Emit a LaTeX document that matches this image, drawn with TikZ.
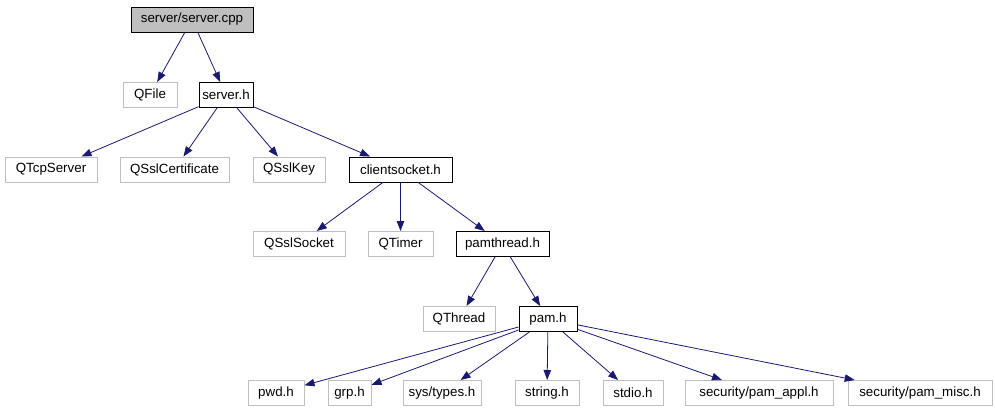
\documentclass[tikz,border=0pt]{standalone}
\usepackage{fontspec}
\setmainfont{Liberation Sans}
\usepackage{tikz}
\usetikzlibrary{arrows.meta}

\definecolor{edgeblue}{RGB}{25,25,112}
\definecolor{boxgray}{RGB}{191,191,191}

\tikzset{
  file/.style={draw=black, line width=0.75pt, minimum height=18.75pt, inner sep=0pt,
               font=\fontsize{10}{12}\selectfont},
  extfile/.style={file, draw=boxgray},
  rootfile/.style={file, fill=boxgray},
  dep/.style={draw=edgeblue, line width=0.6pt, -{Triangle[length=7.5pt, width=5.6pt]}}
}

\begin{document}
\begin{tikzpicture}[x=0.75pt, y=-0.75pt]
      \useasboundingbox (0,0) rectangle (995,411);

      % Top level
      \node[rootfile, minimum width=91.5pt] (root) at (192, 19.5) {server/server.cpp};

      % Row 1
      \node[extfile, minimum width=40.5pt] (qfile) at (150, 95) {QFile};
      \node[file, minimum width=40.5pt] (serverh) at (226, 95) {server.h};

      % Row 2
      \node[extfile, minimum width=69pt] (qtcpserver) at (51, 169.5) {QTcpServer};
      \node[extfile, minimum width=81.75pt] (qsslcert) at (174.5, 169.5) {QSslCertificate};
      \node[extfile, minimum width=54pt] (qsslkey) at (289, 169.5) {QSslKey};
      \node[file, minimum width=77.25pt] (clientsocketh) at (400.5, 169.5) {clientsocket.h};

      % Row 3
      \node[extfile, minimum width=69pt] (qsslsocket) at (299, 244) {QSslSocket};
      \node[extfile, minimum width=48.75pt] (qtimer) at (400.5, 244) {QTimer};
      \node[file, minimum width=69.75pt] (pamthreadh) at (502.5, 244) {pamthread.h};

      % Row 4
      \node[extfile, minimum width=54pt] (qthread) at (459, 319) {QThread};
      \node[file, minimum width=43.5pt] (pamh) at (548, 319) {pam.h};

      % Row 5
      \node[extfile, minimum width=42pt] (pwdh) at (276, 393) {pwd.h};
      \node[extfile, minimum width=32.25pt] (grph) at (349.5, 393) {grp.h};
      \node[extfile, minimum width=58.5pt] (systypesh) at (442, 393) {sys/types.h};
      \node[extfile, minimum width=48pt] (stringh) at (547, 393) {string.h};
      \node[extfile, minimum width=45pt] (stdioh) at (633, 393) {stdio.h};
      \node[extfile, minimum width=111pt] (pamappl) at (759, 393) {security/pam\_appl.h};
      \node[extfile, minimum width=108pt] (pammisc) at (920, 393) {security/pam\_misc.h};

      % Include edges
      \draw[dep] (root) -- (qfile);
      \draw[dep] (root) -- (serverh);
      \foreach \dst in {qtcpserver, qsslcert, qsslkey, clientsocketh}
        \draw[dep] (serverh) -- (\dst);
      \foreach \dst in {qsslsocket, qtimer, pamthreadh}
        \draw[dep] (clientsocketh) -- (\dst);
      \draw[dep] (pamthreadh) -- (qthread);
      \draw[dep] (pamthreadh) -- (pamh);
      \foreach \dst in {pwdh, grph, systypesh, stringh, stdioh, pamappl, pammisc}
        \draw[dep] (pamh) -- (\dst);
\end{tikzpicture}
\end{document}
